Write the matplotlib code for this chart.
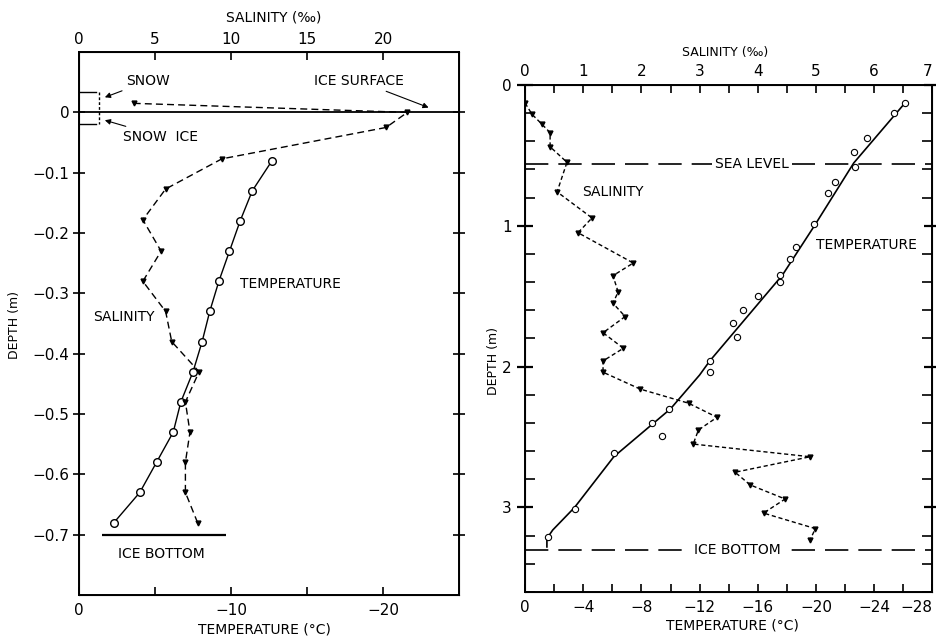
import matplotlib.pyplot as plt

plt.rcParams['font.family'] = ['DejaVu Sans']
plt.rcParams['font.size'] = 10

# ---- left panel: first-year ice core ----
ice_depth = [-0.08, -0.13, -0.18, -0.23, -0.28, -0.33, -0.38, -0.43, -0.48, -0.53, -0.58, -0.63, -0.68]
ice_temp = [-12.7, -11.4, -10.6, -9.9, -9.2, -8.6, -8.1, -7.5, -6.7, -6.2, -5.1, -4.0, -2.3]
ice_sal_depth = [0.015, 0.0, -0.025, -0.077, -0.127, -0.178, -0.23, -0.28, -0.33,
                 -0.38, -0.43, -0.48, -0.53, -0.58, -0.63, -0.68]
ice_sal = [3.6, 21.6, 20.2, 9.4, 5.7, 4.2, 5.4, 4.2, 5.7, 6.1, 7.9, 7.0, 7.3, 7.0, 7.0, 7.8]
snow_top = 0.033
snow_ice_bottom = -0.02
snow_sal = 1.3
ice_bottom_left = -0.70

# ---- right panel: thick ice core ----
thick_depth = [0.13, 0.20, 0.38, 0.475, 0.58, 0.69, 0.77, 0.985, 1.15, 1.24, 1.35, 1.40,
               1.50, 1.60, 1.69, 1.79, 1.96, 2.04, 2.30, 2.40, 2.49, 2.61, 3.01, 3.21]
thick_temp = [-26.1, -25.4, -23.5, -22.6, -22.7, -21.3, -20.8, -19.9, -18.6, -18.2, -17.5, -17.5,
              -16.0, -15.0, -14.3, -14.6, -12.7, -12.7, -9.9, -8.7, -9.4, -6.1, -3.4, -1.6]
fit_depth = [0.12, 0.555, 1.0, 1.35, 1.96, 2.06, 2.30, 2.64, 3.0, 3.16, 3.22, 3.28]
fit_temp = [-26.2, -22.6, -19.9, -17.7, -12.7, -12.0, -10.0, -6.1, -3.4, -1.9, -1.5, -1.5]
thick_sal_depth = [0.13, 0.21, 0.28, 0.34, 0.44, 0.55, 0.76, 0.945, 1.05, 1.265, 1.355, 1.47,
                   1.55, 1.645, 1.76, 1.87, 1.96, 2.04, 2.16, 2.26, 2.36, 2.45, 2.55, 2.64,
                   2.75, 2.84, 2.94, 3.04, 3.15, 3.23]
thick_sal = [0.0, 0.12, 0.29, 0.43, 0.43, 0.72, 0.55, 1.15, 0.91, 1.86, 1.51, 1.6,
             1.51, 1.72, 1.34, 1.69, 1.34, 1.34, 1.98, 2.81, 3.3, 2.98, 2.89, 4.9,
             3.61, 3.87, 4.47, 4.1, 4.99, 4.9]
sea_level = 0.56
ice_bottom_right = 3.30

fig = plt.figure(figsize=(9.36, 6.38), dpi=100)

# ================= left panel =================
ax = fig.add_axes([0.0844, 0.0674, 0.406, 0.851])
ax.set_xlim(0, -25)
ax.set_ylim(-0.8, 0.1)
ax.plot(ice_temp, ice_depth, color='k', lw=1.0, marker='o', ms=5.5,
        mfc='white', mec='k', mew=1.0)
ax.axhline(0, color='k', lw=1.3)
ax.hlines(ice_bottom_left, -1.5, -9.7, color='k', lw=1.6)
ax.text(-5.4, -0.72, 'ICE BOTTOM', ha='center', va='top', fontsize=10)
ax.text(-10.6, -0.285, 'TEMPERATURE', ha='left', va='center', fontsize=10)
ax.text(-0.9, -0.34, 'SALINITY', ha='left', va='center', fontsize=10)

ax.set_xticks([0, -5, -10, -15, -20])
ax.set_xticklabels(['0', '', '\u221210', '', '\u221220'])
ax.set_yticks([0, -0.1, -0.2, -0.3, -0.4, -0.5, -0.6, -0.7])
ax.set_yticklabels(['0'] + ['\u22120.%d' % i for i in range(1, 8)])
ax.tick_params(axis='x', direction='in', length=6, width=1.2, labelsize=11, pad=6)
ax.tick_params(axis='y', direction='inout', length=8, width=1.2, labelsize=11,
               right=True, pad=3)
for s in ax.spines.values():
    s.set_linewidth(1.4)

ax2 = ax.twiny()
ax2.set_xlim(0, 25)
ax2.plot(ice_sal, ice_sal_depth, color='k', lw=1.0, ls=(0, (5, 3)),
         marker='v', ms=3.5, mfc='k', mec='k')
# snow and snow-ice brackets
ax2.plot([0, snow_sal - 0.2], [snow_top, snow_top], color='k', lw=1.0)
ax2.plot([snow_sal, snow_sal], [snow_top, 0], color='k', lw=1.0, ls=(0, (2, 1.5)))
ax2.plot([0, snow_sal - 0.2], [snow_ice_bottom, snow_ice_bottom], color='k', lw=1.0)
ax2.plot([snow_sal, snow_sal], [0, snow_ice_bottom], color='k', lw=1.0, ls=(0, (2, 1.5)))
ax2.set_xticks([0, 5, 10, 15, 20])
ax2.tick_params(axis='x', direction='in', length=6, width=1.2, labelsize=11, pad=4)

arrow = dict(arrowstyle='-|>', color='k', lw=0.8, mutation_scale=8, shrinkA=1, shrinkB=0)
ax2.annotate('SNOW', xy=(1.7, 0.025), xytext=(3.1, 0.052), ha='left', va='center',
             fontsize=10, arrowprops=arrow)
ax2.annotate('SNOW  ICE', xy=(1.7, -0.013), xytext=(2.9, -0.04), ha='left', va='center',
             fontsize=10, arrowprops=arrow)
ax2.annotate('ICE SURFACE', xy=(23.0, 0.008), xytext=(21.4, 0.052), ha='right', va='center',
             fontsize=10, arrowprops=arrow)

fig.text(0.292, 0.972, 'SALINITY (\u2030)', ha='center', va='center', fontsize=10)
fig.text(0.282, 0.013, 'TEMPERATURE (\u00b0C)', ha='center', va='center', fontsize=10)
fig.text(0.016, 0.49, 'DEPTH (m)', ha='center', va='center', rotation=90, fontsize=9)

# ================= right panel =================
bx = fig.add_axes([0.561, 0.0721, 0.435, 0.795])
bx.set_xlim(0, -28)
bx.set_ylim(3.6, 0)
bx.plot(fit_temp, fit_depth, color='k', lw=1.2)
bx.plot(thick_temp, thick_depth, ls='none', marker='o', ms=4.5, mfc='white', mec='k', mew=0.8)
bx.axhline(sea_level, color='k', lw=1.2, dashes=(14, 6))
bx.axhline(ice_bottom_right, color='k', lw=1.2, dashes=(14, 6))
bx.text(-15.6, sea_level, 'SEA LEVEL', ha='center', va='center', fontsize=10,
        bbox=dict(fc='white', ec='none', pad=2))
bx.text(-14.6, ice_bottom_right, 'ICE BOTTOM', ha='center', va='center', fontsize=10,
        bbox=dict(fc='white', ec='none', pad=2))
bx.text(-20.0, 1.14, 'TEMPERATURE', ha='left', va='center', fontsize=10)
bx.text(-3.9, 0.76, 'SALINITY', ha='left', va='center', fontsize=10)

bx.set_xticks(range(0, -29, -4))
bx.set_xticklabels(['0'] + ['\u2212%d' % v for v in range(4, 29, 4)])
bx.set_xticks(range(0, -29, -2), minor=True)
bx.set_yticks([0, 1, 2, 3])
bx.set_yticks([0.2 * i for i in range(19)], minor=True)
bx.tick_params(axis='x', which='both', direction='in', length=6, width=1.2,
               labelsize=11, pad=6)
bx.tick_params(axis='y', which='major', direction='inout', length=12, width=1.6,
               labelsize=11, right=True)
bx.tick_params(axis='y', which='minor', direction='in', length=7, width=1.2, right=True)
bx.get_xticklabels()[-1].set_ha('right')
for s in bx.spines.values():
    s.set_linewidth(1.4)

bx2 = bx.twiny()
bx2.set_xlim(0, 7)
bx2.plot(thick_sal, thick_sal_depth, color='k', lw=1.0, ls=(0, (3, 2)),
         marker='v', ms=3.5, mfc='k', mec='k')
bx2.set_xticks(range(0, 8))
bx2.set_xticks([0.5 * i for i in range(15)], minor=True)
bx2.tick_params(axis='x', which='both', direction='in', length=6, width=1.2,
                labelsize=11, pad=4)
bx2.get_xticklabels()[-1].set_ha('right')

fig.text(0.775, 0.917, 'SALINITY (\u2030)', ha='center', va='center', fontsize=9)
fig.text(0.782, 0.02, 'TEMPERATURE (\u00b0C)', ha='center', va='center', fontsize=10)
fig.text(0.527, 0.434, 'DEPTH (m)', ha='center', va='center', rotation=90, fontsize=9)

fig.savefig('out.png', dpi=100)
